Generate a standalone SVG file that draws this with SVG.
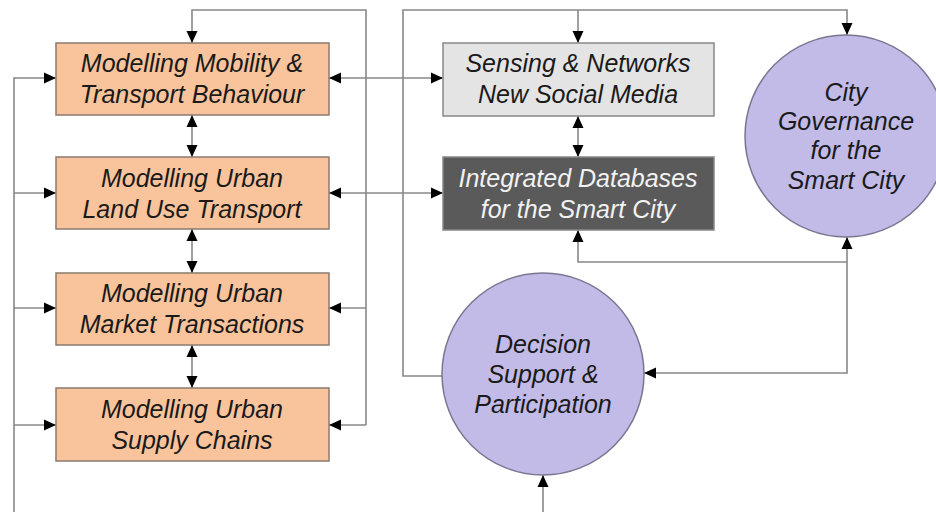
<svg xmlns="http://www.w3.org/2000/svg" width="936" height="512" viewBox="0 0 936 512">
<style>
.box{fill:#f9c49c;stroke:#8a7a70;stroke-width:1.5}
.sens{fill:#e4e4e4;stroke:#888;stroke-width:1.5}
.db{fill:#5a5a5a;stroke:#888;stroke-width:1.5}
.circ{fill:#c2bbe8;stroke:#7a7690;stroke-width:1.5}
text{font-family:"Liberation Sans",Arial,sans-serif;font-style:italic;font-size:25px;text-anchor:middle;fill:#1a1a1a}
.w{fill:#f2f2f2}
.c{fill:none;stroke:#888;stroke-width:1.6}
.a{marker-end:url(#ah)}
.aa{marker-end:url(#ah);marker-start:url(#ah)}
</style>
<defs>
<marker id="ah" markerUnits="userSpaceOnUse" markerWidth="14" markerHeight="14" viewBox="0 0 14 14" refX="13" refY="7" orient="auto-start-reverse">
<path d="M1,1.5 L13,7 L1,12.5 Z" fill="#000"/>
</marker>
</defs>
<rect width="936" height="512" fill="#fff"/>
<g id="connectors">
<path class="c a" d="M14,512 V78 H56"/>
<path class="c a" d="M14,193 H56"/>
<path class="c a" d="M14,308 H56"/>
<path class="c a" d="M14,425 H56"/>
<path class="c a" d="M366,425 V10 H192 V43"/>
<path class="c a" d="M366,425 H329"/>
<path class="c a" d="M366,308 H329"/>
<path class="c aa" d="M329,78 H443"/>
<path class="c aa" d="M329,193 H443"/>
<path class="c aa" d="M192,115 V157"/>
<path class="c aa" d="M192,229 V273"/>
<path class="c aa" d="M192,345 V388"/>
<path class="c aa" d="M578,116 V157"/>
<path class="c a" d="M443,376 H403 V10 H847 V35"/>
<path class="c a" d="M578,10 V43"/>
<path class="c a" d="M847,262 H578 V230"/>
<path class="c a" d="M847,262 V237"/>
<path class="c a" d="M847,262 V373 H644"/>
<path class="c a" d="M543,512 V475"/>
</g>
<g id="mobility">
<rect class="box" x="56" y="43" width="273" height="72"/>
<text x="192" y="72">Modelling Mobility &amp;</text>
<text x="192" y="103">Transport Behaviour</text>
</g>
<g id="landuse">
<rect class="box" x="56" y="157" width="273" height="72"/>
<text x="192" y="187">Modelling Urban</text>
<text x="192" y="218">Land Use Transport</text>
</g>
<g id="market">
<rect class="box" x="56" y="273" width="273" height="72"/>
<text x="192" y="302">Modelling Urban</text>
<text x="192" y="333">Market Transactions</text>
</g>
<g id="supply">
<rect class="box" x="56" y="388" width="273" height="73"/>
<text x="192" y="418">Modelling Urban</text>
<text x="192" y="449">Supply Chains</text>
</g>
<g id="sensing">
<rect class="sens" x="443" y="43" width="271" height="73"/>
<text x="578" y="72">Sensing &amp; Networks</text>
<text x="578" y="103">New Social Media</text>
</g>
<g id="databases">
<rect class="db" x="443" y="157" width="271" height="73"/>
<text class="w" x="578" y="187">Integrated Databases</text>
<text class="w" x="578" y="218">for the Smart City</text>
</g>
<g id="governance">
<circle class="circ" cx="846" cy="136" r="101"/>
<text x="846" y="101">City</text>
<text x="846" y="130">Governance</text>
<text x="846" y="159">for the</text>
<text x="846" y="189">Smart City</text>
</g>
<g id="decision">
<circle class="circ" cx="543" cy="374" r="101"/>
<text x="543" y="353">Decision</text>
<text x="543" y="383">Support &amp;</text>
<text x="543" y="413">Participation</text>
</g>
</svg>
